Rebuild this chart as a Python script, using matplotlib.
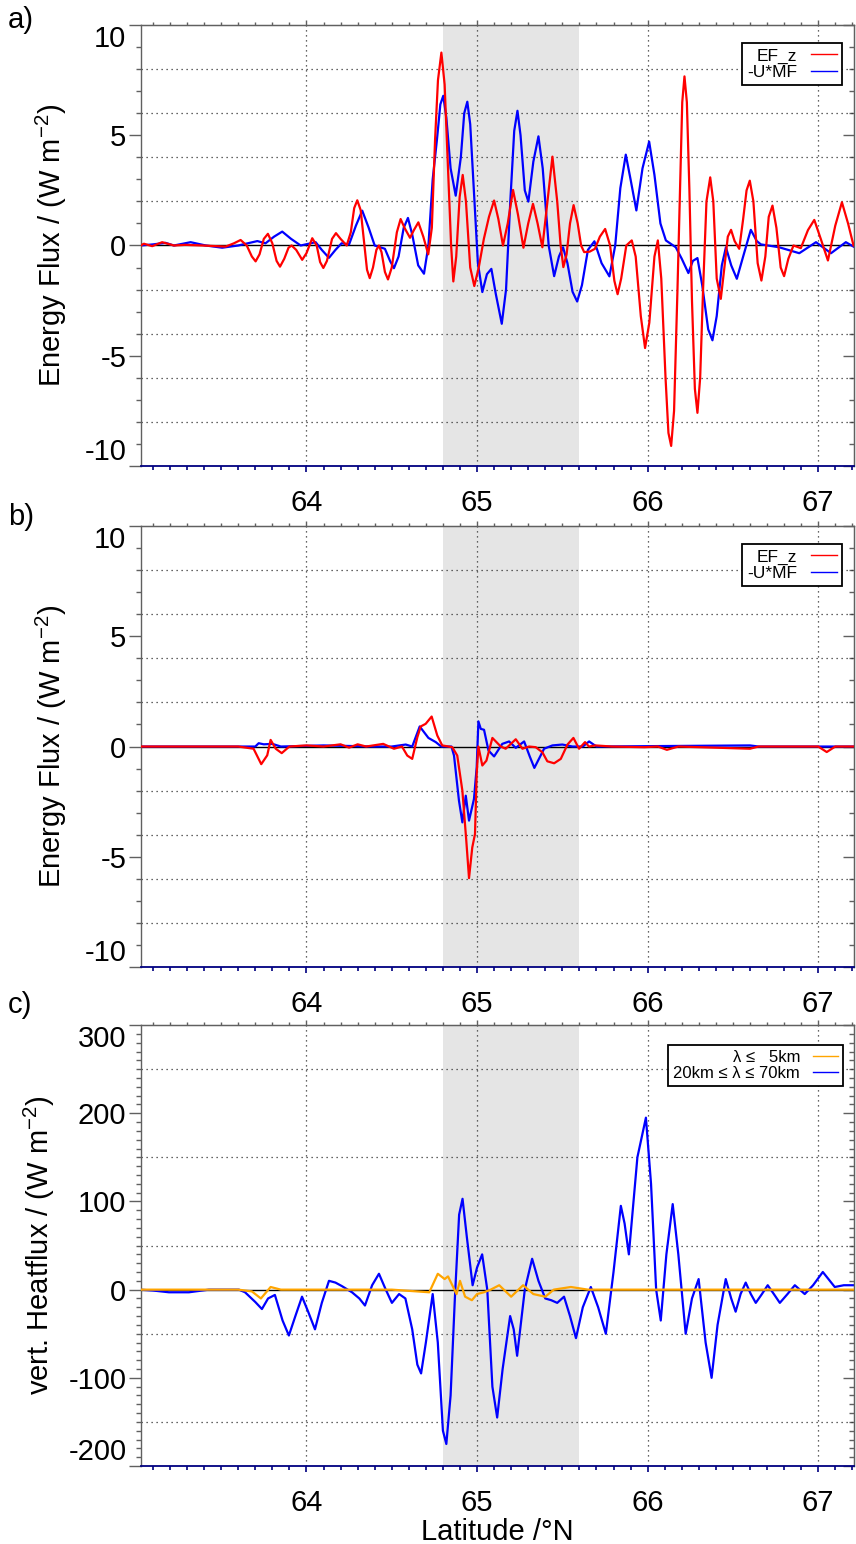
import matplotlib
matplotlib.use("Agg")
import matplotlib.pyplot as plt
from matplotlib.ticker import FixedLocator, MultipleLocator, NullFormatter

plt.rcParams['font.family'] = ['Liberation Sans', 'DejaVu Sans']
plt.rcParams['axes.unicode_minus'] = False
plt.rcParams['mathtext.fontset'] = 'custom'
plt.rcParams['mathtext.rm'] = 'Liberation Sans'
plt.rcParams['mathtext.it'] = 'Liberation Sans:italic'
plt.rcParams['mathtext.bf'] = 'Liberation Sans:bold'

# ---------------- data ----------------
# panel a : EF_z (red)
a_red_lat = [63.028, 63.047, 63.096, 63.154, 63.223, 63.29, 63.389, 63.526, 63.575, 63.614,
             63.65, 63.68, 63.702, 63.725, 63.75, 63.774, 63.8, 63.825, 63.845, 63.87,
             63.895, 63.913, 63.94, 63.975, 64.0, 64.034, 64.06, 64.08, 64.099, 64.12,
             64.15, 64.173, 64.2, 64.236, 64.26, 64.28, 64.298, 64.318, 64.34, 64.355,
             64.371, 64.39, 64.41, 64.425, 64.44, 64.46, 64.478, 64.5, 64.53, 64.552,
             64.575, 64.607, 64.63, 64.656, 64.685, 64.714, 64.735, 64.754, 64.771, 64.791,
             64.81, 64.83, 64.848, 64.861, 64.878, 64.898, 64.916, 64.935, 64.96, 64.984,
             65.01, 65.04, 65.07, 65.1, 65.125, 65.152, 65.18, 65.211, 65.24, 65.272,
             65.3, 65.328, 65.355, 65.383, 65.41, 65.442, 65.47, 65.49, 65.506, 65.525,
             65.545, 65.566, 65.59, 65.61, 65.628, 65.66, 65.691, 65.72, 65.751, 65.78,
             65.805, 65.824, 65.845, 65.875, 65.907, 65.93, 65.96, 65.985, 66.01, 66.04,
             66.06, 66.08, 66.105, 66.122, 66.138, 66.155, 66.175, 66.19, 66.203, 66.216,
             66.23, 66.245, 66.26, 66.277, 66.292, 66.308, 66.325, 66.345, 66.367, 66.385,
             66.405, 66.429, 66.45, 66.47, 66.489, 66.51, 66.537, 66.56, 66.58, 66.599,
             66.62, 66.645, 66.667, 66.69, 66.71, 66.732, 66.755, 66.78, 66.8, 66.825,
             66.855, 66.898, 66.94, 66.977, 67.015, 67.057, 67.1, 67.139, 67.175, 67.207]
a_red_val = [0.0, 0.08, -0.03, 0.15, 0.0, 0.03, 0.0, -0.05, 0.1, 0.25,
             0.0, -0.5, -0.72, -0.4, 0.3, 0.53, 0.1, -0.7, -0.96, -0.6,
             -0.1, 0.0, -0.2, -0.65, -0.35, 0.33, 0.0, -0.75, -1.02, -0.7,
             0.3, 0.56, 0.3, 0.0, 0.6, 1.7, 2.05, 1.6, 0.0, -1.1,
             -1.48, -1.0, -0.2, 0.0, -0.3, -1.2, -1.54, -1.0, 0.6, 1.2,
             0.8, 0.35, 0.7, 1.05, 0.4, -0.4, 0.8, 4.8, 7.5, 8.75,
             7.3, 3.5, 0.0, -1.63, -0.5, 2.2, 3.2, 2.0, -1.0, -1.84,
             -1.0, 0.3, 1.3, 2.04, 1.2, 0.0, 1.0, 2.52, 1.4, -0.1,
             1.0, 1.89, 1.0, -0.08, 1.8, 4.03, 2.0, 0.0, -0.98, -0.4,
             1.0, 1.83, 1.0, 0.0, -0.3, -0.28, -0.15, 0.4, 0.75, 0.0,
             -1.6, -2.21, -1.5, 0.0, 0.23, -0.5, -3.2, -4.65, -3.5, -0.5,
             0.23, -1.5, -6.0, -8.5, -9.09, -7.5, -2.0, 2.5, 6.5, 7.67,
             6.5, 2.5, -2.5, -6.5, -7.59, -6.0, -2.0, 2.0, 3.09, 2.0,
             -1.5, -2.42, -1.0, 0.4, 0.71, 0.2, -0.15, 1.2, 2.5, 2.94,
             2.0, -0.8, -1.59, -0.5, 1.3, 1.81, 0.8, -1.0, -1.39, -0.6,
             0.0, -0.12, 0.7, 1.16, 0.3, -0.68, 0.9, 1.96, 1.0, 0.0]
# panel a : -U*MF (blue)
a_blue_lat = [63.028, 63.1, 63.174, 63.223, 63.321, 63.41, 63.506, 63.6, 63.712, 63.76,
              63.81, 63.858, 63.91, 63.966, 64.054, 64.09, 64.132, 64.17, 64.206, 64.25,
              64.29, 64.327, 64.365, 64.4, 64.46, 64.49, 64.513, 64.54, 64.57, 64.595,
              64.62, 64.655, 64.689, 64.715, 64.74, 64.765, 64.785, 64.802, 64.82, 64.845,
              64.875, 64.905, 64.925, 64.943, 64.96, 64.985, 65.005, 65.031, 65.058, 65.084,
              65.11, 65.145, 65.17, 65.195, 65.218, 65.237, 65.255, 65.28, 65.301, 65.33,
              65.36, 65.385, 65.42, 65.452, 65.48, 65.504, 65.53, 65.56, 65.587, 65.615,
              65.65, 65.688, 65.73, 65.776, 65.81, 65.84, 65.872, 65.9, 65.934, 65.97,
              66.009, 66.04, 66.075, 66.107, 66.165, 66.2, 66.239, 66.265, 66.292, 66.32,
              66.355, 66.38, 66.405, 66.435, 66.459, 66.49, 66.523, 66.56, 66.605, 66.64,
              66.664, 66.771, 66.889, 66.987, 67.075, 67.162, 67.207]
a_blue_val = [0.0, 0.05, 0.12, 0.0, 0.15, 0.0, -0.1, 0.0, 0.2, 0.1,
              0.4, 0.63, 0.3, 0.0, 0.15, -0.2, -0.56, -0.2, 0.1, 0.05,
              0.9, 1.58, 0.8, 0.0, -0.15, -0.7, -1.03, -0.5, 0.8, 1.25,
              0.5, -0.9, -1.28, 0.0, 3.0, 4.8, 6.4, 6.79, 5.8, 3.5,
              2.26, 4.0, 6.0, 6.52, 5.5, 2.0, -0.8, -2.11, -1.3, -1.06,
              -2.2, -3.55, -2.0, 2.0, 5.2, 6.11, 5.0, 2.5, 1.99, 3.8,
              4.95, 3.5, 0.0, -1.39, -0.5, -0.08, -0.8, -2.1, -2.54, -1.8,
              -0.2, 0.19, -0.8, -1.4, 0.0, 2.6, 4.12, 3.0, 1.59, 3.5,
              4.71, 3.2, 1.0, 0.23, -0.08, -0.6, -1.25, -0.7, -0.57, -1.8,
              -3.8, -4.3, -3.2, -0.9, -0.08, -0.9, -1.51, -0.5, 0.71, 0.2,
              0.05, -0.08, -0.35, 0.15, -0.35, 0.15, -0.05]

# panel b : EF_z (red)
b_red_lat = [63.028, 63.3, 63.6, 63.69, 63.735, 63.77, 63.79, 63.82, 63.855, 63.9,
             64.0, 64.1, 64.2, 64.25, 64.3, 64.35, 64.425, 64.45, 64.513, 64.56,
             64.591, 64.62, 64.65, 64.67, 64.699, 64.734, 64.767, 64.796, 64.855, 64.884,
             64.914, 64.937, 64.953, 64.972, 64.988, 64.998, 65.008, 65.031, 65.055, 65.09,
             65.139, 65.168, 65.227, 65.266, 65.305, 65.344, 65.383, 65.412, 65.452, 65.491,
             65.53, 65.565, 65.598, 65.633, 65.656, 65.694, 65.79, 65.98, 66.06, 66.113,
             66.18, 66.6, 66.65, 67.0, 67.05, 67.1, 67.207]
b_red_val = [0.0, 0.0, 0.0, -0.1, -0.8, -0.4, 0.3, -0.1, -0.3, 0.0,
             0.05, 0.0, 0.1, -0.05, 0.1, 0.0, 0.09, 0.12, -0.1, 0.0,
             -0.41, -0.56, 0.42, 0.91, 1.03, 1.36, 0.5, 0.05, -0.03, -0.41,
             -2.0, -4.27, -5.97, -4.58, -3.97, -1.24, 0.0, -0.86, -0.64, 0.39,
             0.0, -0.1, 0.33, -0.1, 0.0, -0.03, -0.26, -0.67, -0.76, -0.56,
             0.09, 0.39, -0.1, 0.2, 0.0, 0.05, 0.0, -0.03, 0.0, -0.15,
             0.0, -0.1, 0.0, 0.0, -0.25, 0.0, 0.0]
# panel b : -U*MF (blue)
b_blue_lat = [63.028, 63.7, 63.72, 63.75, 63.8, 63.85, 64.1, 64.4, 64.5, 64.582,
              64.62, 64.664, 64.715, 64.758, 64.79, 64.85, 64.865, 64.894, 64.914, 64.934,
              64.953, 64.982, 64.998, 65.008, 65.022, 65.041, 65.067, 65.1, 65.148, 65.188,
              65.227, 65.276, 65.309, 65.336, 65.393, 65.442, 65.5, 65.56, 65.62, 65.657,
              65.7, 66.6, 66.65, 67.207]
b_blue_val = [0.0, 0.0, 0.15, 0.1, 0.12, 0.0, 0.05, 0.0, 0.0, 0.09,
              0.0, 0.91, 0.39, 0.2, 0.0, 0.0, -0.41, -2.45, -3.44, -2.23,
              -3.36, -2.38, -0.94, 1.14, 0.8, 0.76, -0.18, -0.45, 0.12, 0.23,
              -0.06, 0.23, -0.45, -0.97, -0.1, 0.05, 0.09, 0.0, 0.0, 0.23,
              0.0, 0.05, 0.0, 0.0]

# panel c : lambda <= 5 km (orange)
c_orange_lat = [63.028, 63.6, 63.68, 63.733, 63.79, 63.85, 64.5, 64.72, 64.77, 64.81,
                64.83, 64.855, 64.88, 64.9, 64.93, 64.97, 65.0, 65.04, 65.08, 65.13,
                65.2, 65.27, 65.33, 65.4, 65.45, 65.55, 65.65, 67.207]
c_orange_val = [0.0, 0.0, -2.0, -10.0, 3.0, 0.0, 0.0, -3.0, 18.0, 12.0,
                15.0, 5.0, -5.0, 10.0, -8.0, -12.0, -5.0, -3.0, 0.0, 5.0,
                -8.0, 5.0, -5.0, -8.0, 0.0, 3.0, 0.0, 0.0]
# panel c : 20 km <= lambda <= 70 km (blue)
c_blue_lat = [63.023, 63.1, 63.194, 63.311, 63.428, 63.604, 63.64, 63.7, 63.739, 63.775,
              63.815, 63.86, 63.897, 63.935, 63.974, 64.01, 64.05, 64.09, 64.132, 64.17,
              64.208, 64.267, 64.31, 64.343, 64.385, 64.425, 64.465, 64.501, 64.543, 64.58,
              64.62, 64.65, 64.672, 64.7, 64.74, 64.77, 64.8, 64.82, 64.845, 64.87,
              64.895, 64.915, 64.94, 64.974, 65.0, 65.03, 65.06, 65.09, 65.118, 65.15,
              65.194, 65.215, 65.235, 65.28, 65.323, 65.36, 65.4, 65.435, 65.47, 65.51,
              65.545, 65.58, 65.62, 65.667, 65.71, 65.755, 65.8, 65.843, 65.865, 65.89,
              65.94, 65.99, 66.02, 66.05, 66.077, 66.11, 66.147, 66.18, 66.223, 66.26,
              66.299, 66.34, 66.375, 66.41, 66.458, 66.49, 66.516, 66.545, 66.575, 66.605,
              66.634, 66.67, 66.704, 66.74, 66.775, 66.82, 66.863, 66.921, 66.97, 67.027,
              67.06, 67.097, 67.15, 67.207]
c_blue_val = [0.0, -1.0, -3.0, -3.0, 0.0, 0.0, -3.0, -14.0, -22.0, -10.0,
              -6.0, -35.0, -52.0, -30.0, -8.0, -25.0, -45.0, -15.0, 10.0, 8.0,
              4.0, -3.0, -10.0, -18.0, 5.0, 18.0, 0.0, -15.0, -5.0, -10.0,
              -45.0, -85.0, -95.0, -60.0, -5.0, -60.0, -160.0, -175.0, -120.0, -10.0,
              85.0, 103.0, 60.0, 5.0, 25.0, 40.0, 0.0, -110.0, -145.0, -90.0,
              -30.0, -45.0, -75.0, 0.0, 35.0, 10.0, -10.0, -12.0, -15.0, -8.0,
              -30.0, -55.0, -20.0, 3.0, -20.0, -50.0, 20.0, 95.0, 75.0, 40.0,
              150.0, 195.0, 120.0, 0.0, -35.0, 40.0, 97.0, 40.0, -50.0, -10.0,
              12.0, -60.0, -100.0, -40.0, 12.0, -10.0, -25.0, -5.0, 8.0, -5.0,
              -15.0, -5.0, 5.0, -5.0, -15.0, -5.0, 5.0, -5.0, 5.0, 20.0,
              12.0, 3.0, 5.0, 5.0]

# labels / ticks
x_major = [64, 65, 66, 67]
xlim = (63.03, 67.21)
shade = (64.8, 65.6)
ab_yticks = [-10, -5, 0, 5, 10]
ab_grid = [-8, -6, -4, -2, 2, 4, 6, 8]
c_yticks = [-200, -100, 0, 100, 200, 300]
c_grid = [-150, -50, 50, 150, 250]
legend_ab = ['EF_z', '-U*MF']
legend_c = ['λ ≤   5km', '20km ≤ λ ≤ 70km']
ylabel_ab = 'Energy Flux / (W m$^{-2}$)'
ylabel_c = 'vert. Heatflux / (W m$^{-2}$)'
xlabel = 'Latitude /°N'

# ---------------- figure ----------------
fig = plt.figure(figsize=(8.56, 15.44), dpi=100)
L, W, H = 0.1647, 0.833, 0.2856
bottoms = [0.6982, 0.3737, 0.0505]
GRAY = '#606060'
NAVY = '#000080'
FS = 21


def style_axes(ax, yticks, ymin_minor, grid_vals, ylim):
    ax.set_xlim(*xlim)
    ax.set_ylim(*ylim)
    ax.axvspan(*shade, color='#e5e5e5', lw=0, zorder=0)
    for g in grid_vals:
        ax.axhline(g, color='#333333', lw=0.9, ls=(0, (1, 3)), zorder=1)
    for xv in x_major:
        ax.axvline(xv, color='#333333', lw=0.9, ls=(0, (1, 3)), zorder=1)
    ax.axhline(0, color='black', lw=1.0, zorder=1)
    ax.xaxis.set_major_locator(FixedLocator(x_major))
    ax.xaxis.set_minor_locator(MultipleLocator(0.1))
    ax.yaxis.set_major_locator(FixedLocator(yticks))
    ax.yaxis.set_minor_locator(MultipleLocator(ymin_minor))
    ax.tick_params(axis='x', which='major', direction='out', length=4.5, width=1.2,
                   color=NAVY, labelsize=FS, pad=12, top=False)
    ax.tick_params(axis='x', which='minor', direction='out', length=3, width=1.2,
                   color=NAVY, top=False)
    ax.tick_params(axis='y', which='major', direction='out', length=8.5, width=1.0,
                   color=GRAY, labelsize=FS, pad=2, right=False)
    ax.tick_params(axis='y', which='minor', direction='out', length=3.5, width=1.0,
                   color=GRAY, right=False)
    for s in ['left', 'top', 'right']:
        ax.spines[s].set_color(GRAY)
        ax.spines[s].set_linewidth(1.0)
    ax.spines['bottom'].set_color(NAVY)
    ax.spines['bottom'].set_linewidth(1.3)
    ticks = ax.yaxis.get_major_ticks()
    ticks[0].label1.set_verticalalignment('bottom')
    ticks[-1].label1.set_verticalalignment('top')
    sx = ax.secondary_xaxis('top')
    sx.xaxis.set_major_locator(FixedLocator(x_major))
    sx.xaxis.set_minor_locator(MultipleLocator(0.1))
    sx.xaxis.set_major_formatter(NullFormatter())
    sx.tick_params(which='major', direction='out', length=3.5, width=1.0, color=GRAY)
    sx.tick_params(which='minor', direction='out', length=2, width=1.0, color=GRAY)
    sx.spines['top'].set_color(GRAY)
    sy = ax.secondary_yaxis('right')
    sy.yaxis.set_major_locator(FixedLocator(yticks))
    sy.yaxis.set_minor_locator(MultipleLocator(ymin_minor))
    sy.yaxis.set_major_formatter(NullFormatter())
    sy.tick_params(which='major', direction='in', length=8, width=1.0, color=GRAY)
    sy.tick_params(which='minor', direction='in', length=3.5, width=1.0, color=GRAY)
    sy.spines['right'].set_color(GRAY)


def add_legend(ax, fs, anchor):
    leg = ax.legend(loc='upper right', bbox_to_anchor=anchor, borderaxespad=0,
                    markerfirst=False, fontsize=fs, frameon=True, fancybox=False,
                    framealpha=1, edgecolor='black', handlelength=1.5,
                    handletextpad=0.8, labelspacing=0.05, borderpad=0.3)
    leg.get_frame().set_linewidth(1.3)
    for ln in leg.get_lines():
        ln.set_linewidth(1.0)
    return leg


# panel a
axa = fig.add_axes([L, bottoms[0], W, H])
style_axes(axa, ab_yticks, 1, ab_grid, (-10, 10))
axa.plot(a_red_lat, a_red_val, color='#ff0000', lw=1.6, label=legend_ab[0], zorder=3)
axa.plot(a_blue_lat, a_blue_val, color='#0000ff', lw=1.6, label=legend_ab[1], zorder=2)
add_legend(axa, 12.5, (0.983, 0.959))
axa.set_ylabel(ylabel_ab, fontsize=FS)
axa.yaxis.set_label_coords(-0.101, 0.5)

# panel b
axb = fig.add_axes([L, bottoms[1], W, H])
style_axes(axb, ab_yticks, 1, ab_grid, (-10, 10))
axb.plot(b_red_lat, b_red_val, color='#ff0000', lw=1.6, label=legend_ab[0], zorder=3)
axb.plot(b_blue_lat, b_blue_val, color='#0000ff', lw=1.6, label=legend_ab[1], zorder=2)
add_legend(axb, 12.5, (0.983, 0.959))
axb.set_ylabel(ylabel_ab, fontsize=FS)
axb.yaxis.set_label_coords(-0.101, 0.5)

# panel c
axc = fig.add_axes([L, bottoms[2], W, H])
style_axes(axc, c_yticks, 10, c_grid, (-200, 300))
axc.plot(c_orange_lat, c_orange_val, color='#ffa500', lw=1.6, label=legend_c[0], zorder=3)
axc.plot(c_blue_lat, c_blue_val, color='#0000ff', lw=1.6, label=legend_c[1], zorder=2)
add_legend(axc, 12, (0.985, 0.955))
axc.set_ylabel(ylabel_c, fontsize=FS)
axc.yaxis.set_label_coords(-0.118, 0.5)
axc.set_xlabel(xlabel, fontsize=FS)
axc.xaxis.set_label_coords(0.5, -0.118)

for lab, yy in zip(['a)', 'b)', 'c)'], [0.987, 0.665, 0.349]):
    fig.text(0.009, yy, lab, fontsize=FS, ha='left', va='center')

fig.savefig('out.png', dpi=100)
